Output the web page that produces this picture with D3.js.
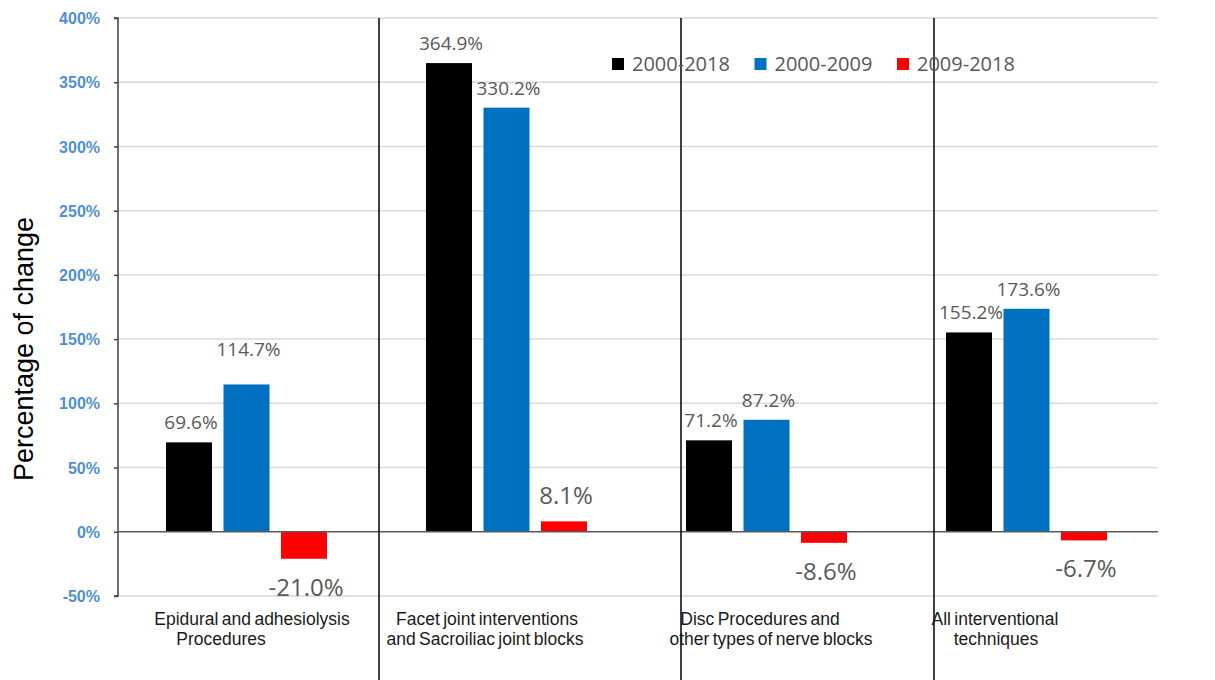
<!DOCTYPE html>
<html>
<head>
<meta charset="utf-8">
<script src="https://cdn.jsdelivr.net/npm/d3@7"></script>
<style>
  body { margin: 0; background: #fff; }
  svg { display: block; }
</style>
</head>
<body>
<div id="chart"></div>
<script>
// chart data
const categories = [
  "Epidural and adhesiolysis Procedures",
  "Facet joint interventions and Sacroiliac joint blocks",
  "Disc Procedures and other types of nerve blocks",
  "All interventional techniques"
];
const categoryLines = [
  ["Epidural and adhesiolysis", "Procedures"],
  ["Facet joint interventions", "and Sacroiliac joint blocks"],
  ["Disc Procedures and", "other types of nerve blocks"],
  ["All interventional", "techniques"]
];
const seriesNames = ["2000-2018", "2000-2009", "2009-2018"];
const values2000_2018 = [69.6, 364.9, 71.2, 155.2];
const values2000_2009 = [114.7, 330.2, 87.2, 173.6];
const values2009_2018 = [-21.0, 8.1, -8.6, -6.7];
const yTicks = [-50, 0, 50, 100, 150, 200, 250, 300, 350, 400];

const width = 1215, height = 680;
const plot = { left: 118, right: 1158, top: 18, bottom: 596 };
const colors = ["#000000", "#0070C0", "#FF0000"];
const labelGrey = "#595959";

// hand placed bits of the original slide
const separatorX = [379, 681, 934];
const catLineShift = [[4, -27], [-21, -23], [-8, 3], [-33, -32]];

const seriesValues = [values2000_2018, values2000_2009, values2009_2018];
const rows = [];
categories.forEach((c, ci) => {
  seriesNames.forEach((s, si) => {
    rows.push({ cat: c, ci: ci, series: s, si: si, value: seriesValues[si][ci] });
  });
});

const svg = d3.select("#chart").append("svg")
  .attr("width", width)
  .attr("height", height)
  .style("background", "#fff");

const y = d3.scaleLinear().domain([-50, 400]).range([plot.bottom, plot.top]);
const x0 = d3.scaleBand().domain(categories).range([plot.left, plot.right]).padding(0);
const x1 = d3.scaleBand().domain(seriesNames).range([48, 209]).paddingInner(0.2);

// gridlines
svg.append("g")
  .selectAll("line")
  .data(yTicks.filter(t => t !== 0))
  .enter().append("line")
  .attr("x1", plot.left).attr("x2", plot.right)
  .attr("y1", d => y(d)).attr("y2", d => y(d))
  .attr("stroke", "#d9d9d9")
  .attr("stroke-width", 1.5);

// y axis
const yAxis = d3.axisLeft(y)
  .tickValues(yTicks)
  .tickSize(4)
  .tickFormat(d => d + "%");
const yg = svg.append("g")
  .attr("transform", `translate(${plot.left},0)`)
  .call(yAxis);
yg.select(".domain").attr("stroke", "#404040").attr("stroke-width", 1.5).attr("d", `M-4,${y(400)}H0V${y(-50)}H-4`);
yg.selectAll(".tick line").attr("stroke", "#404040").attr("stroke-width", 1.5);
yg.selectAll(".tick text")
  .attr("x", -18)
  .attr("dy", "0.35em")
  .attr("font-family", "Liberation Sans, Arial, sans-serif")
  .attr("font-weight", "bold")
  .attr("font-size", "16px")
  .attr("fill", "#4F8FD4");

// bars
svg.append("g")
  .selectAll("rect")
  .data(rows)
  .enter().append("rect")
  .attr("x", d => x0(d.cat) + x1(d.series))
  .attr("width", x1.bandwidth())
  .attr("y", d => y(Math.max(0, d.value)))
  .attr("height", d => Math.abs(y(d.value) - y(0)))
  .attr("fill", d => colors[d.si]);

// zero line
svg.append("line")
  .attr("x1", plot.left).attr("x2", plot.right)
  .attr("y1", y(0)).attr("y2", y(0))
  .attr("stroke", "#595959")
  .attr("stroke-width", 1.5);

// value labels
svg.append("g")
  .selectAll("text")
  .data(rows)
  .enter().append("text")
  .attr("x", d => x0(d.cat) + x1(d.series) + x1.bandwidth() / 2 + 2)
  .attr("y", d => {
    if (d.value < 0) return y(d.value) + 37;
    if (d.si === 2) return y(d.value) - 17;
    if (d.ci === 0 && d.si === 1) return y(d.value) - 28;
    return y(d.value) - 13;
  })
  .attr("text-anchor", "middle")
  .attr("font-family", "Open Sans, sans-serif")
  .attr("font-size", d => d.si === 2 ? "24px" : "19px")
  .attr("fill", labelGrey)
  .text(d => d.value.toFixed(1) + "%");

// separators between the groups
svg.append("g")
  .selectAll("line")
  .data(separatorX)
  .enter().append("line")
  .attr("x1", d => d).attr("x2", d => d)
  .attr("y1", plot.top).attr("y2", height)
  .attr("stroke", "#000")
  .attr("stroke-width", 1.5);

// category labels
const catG = svg.append("g");
categoryLines.forEach((lines, ci) => {
  const cx = x0(categories[ci]) + x0.bandwidth() / 2;
  lines.forEach((ln, li) => {
    catG.append("text")
      .attr("x", cx + catLineShift[ci][li])
      .attr("y", 625 + li * 20)
      .attr("text-anchor", "middle")
      .attr("font-family", "Liberation Sans, Arial, sans-serif")
      .attr("font-size", "17.5px")
      .attr("word-spacing", "-1.5px")
      .attr("fill", "#1a1a1a")
      .text(ln);
  });
});

// y title
svg.append("text")
  .attr("transform", `translate(33,${(plot.top + plot.bottom) / 2 + 42}) rotate(-90)`)
  .attr("text-anchor", "middle")
  .attr("font-family", "Liberation Sans, Arial, sans-serif")
  .attr("font-size", "27px")
  .attr("fill", "#000")
  .text("Percentage of change");

// legend
const legend = svg.append("g").attr("transform", "translate(612,58)");
seriesNames.forEach((s, i) => {
  const g = legend.append("g").attr("transform", `translate(${i * 142.5},0)`);
  g.append("rect")
    .attr("width", 12).attr("height", 12)
    .attr("fill", colors[i]);
  g.append("text")
    .attr("x", 20)
    .attr("y", 12.5)
    .attr("font-family", "Open Sans, sans-serif")
    .attr("font-size", "20px")
    .attr("fill", labelGrey)
    .text(s);
});
</script>
</body>
</html>
